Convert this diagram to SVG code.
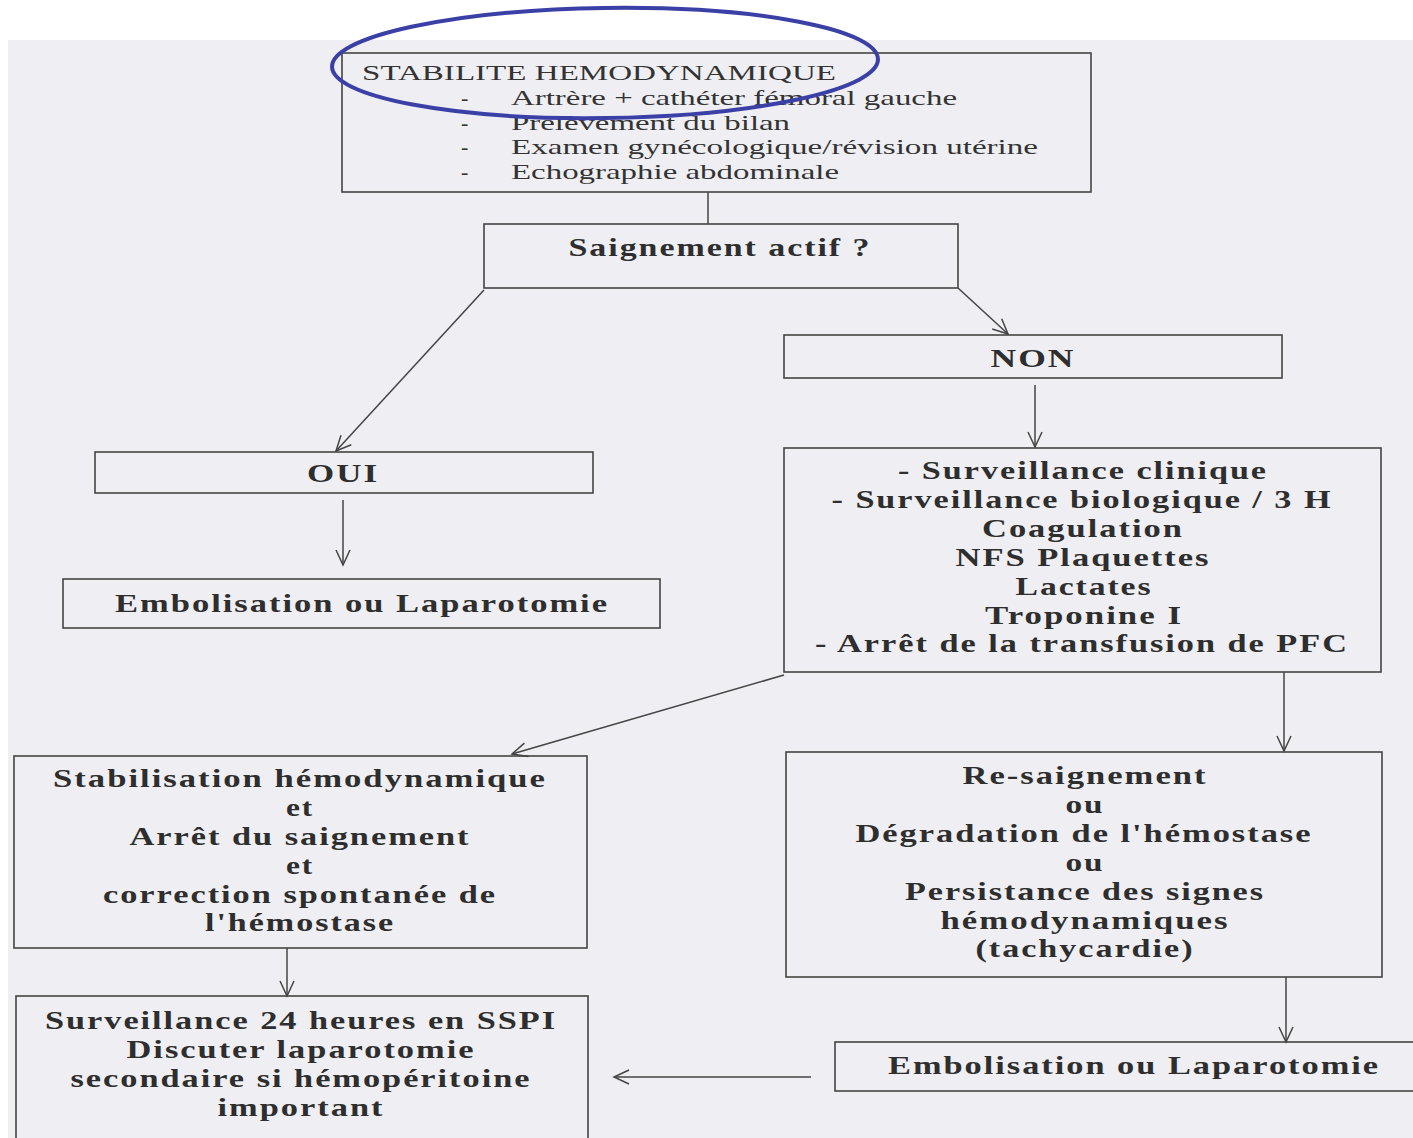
<svg xmlns="http://www.w3.org/2000/svg" width="1413" height="1138" viewBox="0 0 1413 1138">
<style>
.box{fill:none;stroke:#444;stroke-width:1.6}
.b{font-family:"Liberation Serif","Times New Roman",serif;font-weight:bold;font-size:26px;letter-spacing:1.5px;fill:#2e2e2e;text-anchor:middle}
.r{font-family:"Liberation Serif","Times New Roman",serif;font-size:22px;fill:#333}
.c{fill:none;stroke:#444;stroke-width:1.5}
</style>
<defs>
<marker id="ah" viewBox="-16 -8 18 16" refX="0" refY="0" markerWidth="18" markerHeight="16" orient="auto" markerUnits="userSpaceOnUse">
<path d="M-15,-7 L0,0 L-15,7" fill="none" stroke="#444" stroke-width="1.5"/>
</marker>
</defs>
<rect x="0" y="0" width="1413" height="1138" fill="#ffffff"/>
<rect x="8" y="40" width="1405" height="1098" fill="#efeff3"/>

<g id="connectors">
<line class="c" x1="708" y1="192" x2="708" y2="224"/>
<line class="c" x1="484" y1="290" x2="336" y2="451" marker-end="url(#ah)"/>
<line class="c" x1="958" y1="288" x2="1008" y2="334" marker-end="url(#ah)"/>
<line class="c" x1="343" y1="500" x2="343" y2="565" marker-end="url(#ah)"/>
<line class="c" x1="1035" y1="385" x2="1035" y2="447" marker-end="url(#ah)"/>
<line class="c" x1="784" y1="675" x2="512" y2="754" marker-end="url(#ah)"/>
<line class="c" x1="1284" y1="672" x2="1284" y2="751" marker-end="url(#ah)"/>
<line class="c" x1="287" y1="948" x2="287" y2="996" marker-end="url(#ah)"/>
<line class="c" x1="1286" y1="977" x2="1286" y2="1042" marker-end="url(#ah)"/>
<line class="c" x1="811" y1="1077" x2="614" y2="1077" marker-end="url(#ah)"/>
</g>

<g id="stabilite">
<rect class="box" x="342" y="53" width="749" height="139"/>
<text class="r" x="362" y="80" textLength="474" lengthAdjust="spacingAndGlyphs">STABILITE HEMODYNAMIQUE</text>
<text class="r" x="461" y="105">-</text>
<text class="r" x="511" y="105" textLength="446" lengthAdjust="spacingAndGlyphs">Artrère + cathéter fémoral gauche</text>
<text class="r" x="461" y="130">-</text>
<text class="r" x="511" y="130" textLength="279" lengthAdjust="spacingAndGlyphs">Prélèvement du bilan</text>
<text class="r" x="461" y="154">-</text>
<text class="r" x="511" y="154" textLength="527" lengthAdjust="spacingAndGlyphs">Examen gynécologique/révision utérine</text>
<text class="r" x="461" y="179">-</text>
<text class="r" x="511" y="179" textLength="328" lengthAdjust="spacingAndGlyphs">Echographie abdominale</text>
<ellipse cx="605" cy="63" rx="273" ry="55" fill="none" stroke="#3b40a6" stroke-width="4" transform="rotate(-0.8 605 63)"/>
</g>

<g id="saignement">
<rect class="box" x="484" y="224" width="474" height="64"/>
<text class="b" x="720" y="256" textLength="303" lengthAdjust="spacingAndGlyphs">Saignement actif ?</text>
</g>

<g id="oui">
<rect class="box" x="95" y="452" width="498" height="41"/>
<text class="b" x="343" y="482" textLength="72" lengthAdjust="spacingAndGlyphs">OUI</text>
</g>

<g id="embolisation1">
<rect class="box" x="63" y="579" width="597" height="49"/>
<text class="b" x="362" y="612" textLength="494" lengthAdjust="spacingAndGlyphs">Embolisation ou Laparotomie</text>
</g>

<g id="non">
<rect class="box" x="784" y="335" width="498" height="43"/>
<text class="b" x="1033" y="367" textLength="85" lengthAdjust="spacingAndGlyphs">NON</text>
</g>

<g id="surveillance">
<rect class="box" x="784" y="448" width="597" height="224"/>
<text class="b" x="1083" y="479" textLength="370" lengthAdjust="spacingAndGlyphs">- Surveillance clinique</text>
<text class="b" x="1082" y="508" textLength="501" lengthAdjust="spacingAndGlyphs">- Surveillance biologique / 3 H</text>
<text class="b" x="1083" y="537" textLength="202" lengthAdjust="spacingAndGlyphs">Coagulation</text>
<text class="b" x="1083" y="566" textLength="255" lengthAdjust="spacingAndGlyphs">NFS Plaquettes</text>
<text class="b" x="1084" y="595" textLength="137" lengthAdjust="spacingAndGlyphs">Lactates</text>
<text class="b" x="1084" y="624" textLength="198" lengthAdjust="spacingAndGlyphs">Troponine I</text>
<text class="b" x="1082" y="652" textLength="534" lengthAdjust="spacingAndGlyphs">- Arrêt de la transfusion de PFC</text>
</g>

<g id="stabilisation">
<rect class="box" x="14" y="756" width="573" height="192"/>
<text class="b" x="300" y="787" textLength="494" lengthAdjust="spacingAndGlyphs">Stabilisation hémodynamique</text>
<text class="b" x="300" y="816" textLength="28" lengthAdjust="spacingAndGlyphs">et</text>
<text class="b" x="300" y="845" textLength="341" lengthAdjust="spacingAndGlyphs">Arrêt du saignement</text>
<text class="b" x="300" y="874" textLength="28" lengthAdjust="spacingAndGlyphs">et</text>
<text class="b" x="300" y="903" textLength="394" lengthAdjust="spacingAndGlyphs">correction spontanée de</text>
<text class="b" x="300" y="931" textLength="190" lengthAdjust="spacingAndGlyphs">l'hémostase</text>
</g>

<g id="surveillance24">
<rect class="box" x="16" y="996" width="572" height="160"/>
<text class="b" x="301" y="1029" textLength="512" lengthAdjust="spacingAndGlyphs">Surveillance 24 heures en SSPI</text>
<text class="b" x="301" y="1058" textLength="349" lengthAdjust="spacingAndGlyphs">Discuter laparotomie</text>
<text class="b" x="301" y="1087" textLength="461" lengthAdjust="spacingAndGlyphs">secondaire si hémopéritoine</text>
<text class="b" x="301" y="1116" textLength="167" lengthAdjust="spacingAndGlyphs">important</text>
</g>

<g id="resaignement">
<rect class="box" x="786" y="752" width="596" height="225"/>
<text class="b" x="1085" y="784" textLength="245" lengthAdjust="spacingAndGlyphs">Re-saignement</text>
<text class="b" x="1085" y="813" textLength="39" lengthAdjust="spacingAndGlyphs">ou</text>
<text class="b" x="1084" y="842" textLength="457" lengthAdjust="spacingAndGlyphs">Dégradation de l'hémostase</text>
<text class="b" x="1085" y="871" textLength="39" lengthAdjust="spacingAndGlyphs">ou</text>
<text class="b" x="1085" y="900" textLength="360" lengthAdjust="spacingAndGlyphs">Persistance des signes</text>
<text class="b" x="1085" y="929" textLength="289" lengthAdjust="spacingAndGlyphs">hémodynamiques</text>
<text class="b" x="1085" y="957" textLength="219" lengthAdjust="spacingAndGlyphs">(tachycardie)</text>
</g>

<g id="embolisation2">
<rect class="box" x="835" y="1042" width="590" height="49"/>
<text class="b" x="1134" y="1074" textLength="492" lengthAdjust="spacingAndGlyphs">Embolisation ou Laparotomie</text>
</g>
</svg>
